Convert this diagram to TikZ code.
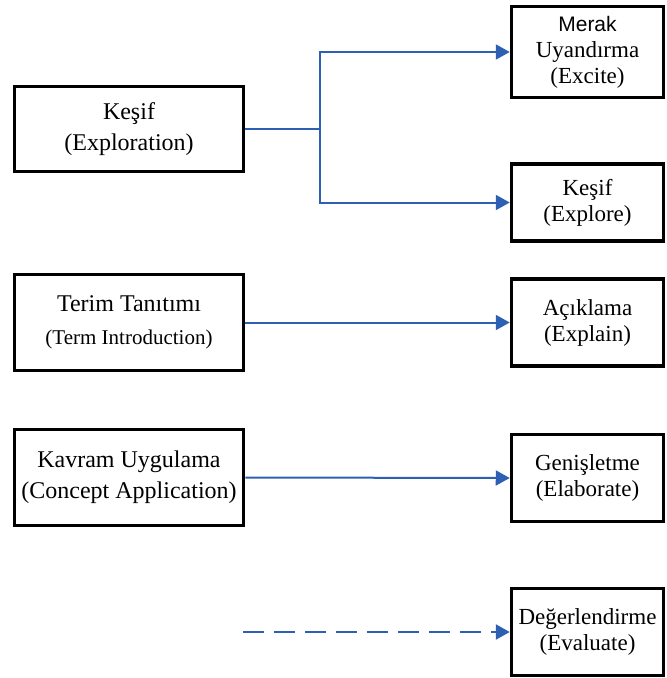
\documentclass[tikz,border=0pt]{standalone}
\usepackage{fontspec}
\setmainfont{Liberation Serif}
\newfontfamily\arialfont{Liberation Sans}
\usetikzlibrary{arrows.meta, positioning}
\definecolor{okmavi}{RGB}{45,95,178}
\tikzset{
  kutu/.style={draw,line width=3.5pt,inner sep=0pt,align=center},
  solkutu/.style={kutu,minimum width=229pt,minimum height=85pt,font=\fontsize{24}{31}\selectfont},
  sagkutu/.style={kutu,minimum width=152pt,minimum height=87pt,font=\fontsize{23}{26}\selectfont},
  ok/.style={okmavi,line width=2pt,-{Triangle[length=14pt,width=15pt]}},
  hat/.style={okmavi,line width=2pt}
}

\begin{document}
\begin{tikzpicture}[x=1pt,y=-1pt]
\useasboundingbox (0,0) rectangle (667,678);

% sol sutun
\node[solkutu,minimum height=85pt] (kesif) at (129,129) {Keşif\\(Exploration)};
\node[solkutu,minimum height=96pt] (terim) at (129,322.5) {Terim Tanıtımı\\[2pt]{\fontsize{21}{26}\selectfont(Term Introduction)}};
\node[solkutu,minimum height=96pt] (kavram) at (129,477.5) {Kavram Uygulama\\(Concept Application)};

% sag sutun
\node[sagkutu,minimum height=91pt] (merak) at (587.5,52) {\arialfont\fontsize{21}{25}\selectfont Merak\\Uyandırma\\(Excite)};
\node[sagkutu,minimum height=77pt] (explore) at (587.5,202.5) {Keşif\\(Explore)};
\node[sagkutu] (aciklama) at (587.5,322.5) {Açıklama\\(Explain)};
\node[sagkutu] (genis) at (587.5,478) {Genişletme\\(Elaborate)};
\node[sagkutu] (deger) at (587.5,632) {Değerlendirme\\(Evaluate)};

% baglantilar
\coordinate (dal) at (320,129);
\draw[hat] (kesif.east) -- (dal);
\draw[ok] (dal) |- (merak.west);
\draw[ok] (dal) |- (explore.west);
\draw[ok] (terim.east) -- (aciklama.west);
\draw[ok] (kavram.east) -- (genis.west);
\coordinate (bos) at (243,632);
\draw[ok,line width=2.5pt,dash pattern=on 21pt off 10pt] (bos) -- (deger.west);

\end{tikzpicture}
\end{document}
